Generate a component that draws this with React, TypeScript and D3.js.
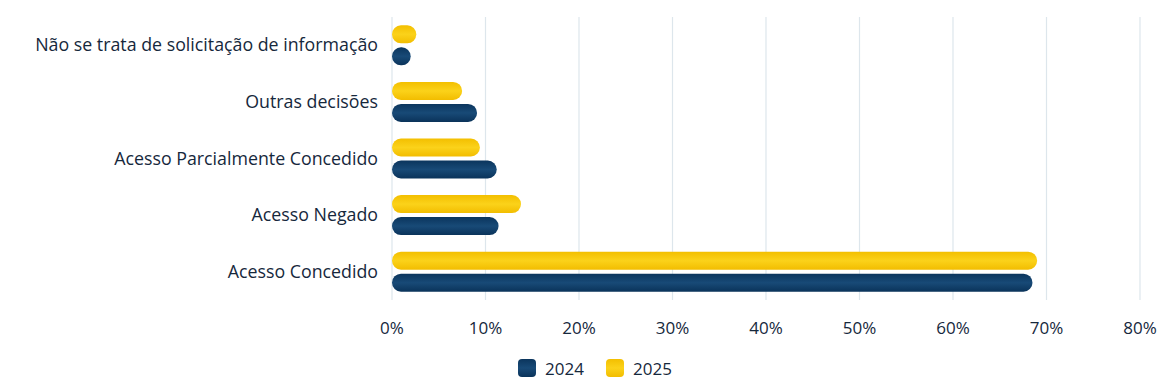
import React from "react";
import * as d3 from "d3";

const categories = [
  "Não se trata de solicitação de informação",
  "Outras decisões",
  "Acesso Parcialmente Concedido",
  "Acesso Negado",
  "Acesso Concedido",
];
const values2025 = [2.6, 7.5, 9.4, 13.8, 69.0];
const values2024 = [2.0, 9.1, 11.2, 11.4, 68.5];
const ticks = [0, 10, 20, 30, 40, 50, 60, 70, 80];
const seriesNames = ["2024", "2025"];

export default function App() {
  const W = 1166, H = 390;
  const x = d3.scaleLinear().domain([0, 80]).range([392, 1140]);
  const y = d3.scaleBand().domain(categories).range([17, 300]).paddingInner(0.2).paddingOuter(0.1);
  const bh = 18;
  const gap = 4;
  const font = "'Open Sans', 'Noto Sans', sans-serif";
  const txt = "#16283c";
  return (
    <svg width={W} height={H} style={{ position: "absolute", left: 0, top: 0 }} fontFamily={font}>
      <defs>
        <linearGradient id="g2024" x1="0" y1="0" x2="0" y2="1">
          <stop offset="0" stopColor="#0b355d" />
          <stop offset="0.5" stopColor="#184a77" />
          <stop offset="1" stopColor="#0a335a" />
        </linearGradient>
        <linearGradient id="g2025" x1="0" y1="0" x2="0" y2="1">
          <stop offset="0" stopColor="#f3bf00" />
          <stop offset="0.5" stopColor="#fbd21a" />
          <stop offset="1" stopColor="#f2bd00" />
        </linearGradient>
      </defs>
      <rect width={W} height={H} fill="#ffffff" />
      {ticks.map((t) => (
        <g key={t}>
          <line x1={x(t)} x2={x(t)} y1={17} y2={300} stroke="#dde6ec" strokeWidth={1.2} />
          <text x={x(t)} y={334} textAnchor="middle" fontSize={17} fill={txt}>
            {t}%
          </text>
        </g>
      ))}
      {categories.map((c, i) => {
        const cy = (y(c) as number) + y.bandwidth() / 2;
        const y25 = cy - gap / 2 - bh;
        const y24 = cy + gap / 2;
        return (
          <g key={c}>
            <text x={378} y={cy + 6} textAnchor="end" fontSize={17.8} fill={txt}>
              {c}
            </text>
            <rect x={x(0)} y={y25} width={x(values2025[i]) - x(0)} height={bh} rx={bh / 2} fill="url(#g2025)" />
            <rect x={x(0)} y={y24} width={x(values2024[i]) - x(0)} height={bh} rx={bh / 2} fill="url(#g2024)" />
          </g>
        );
      })}
      {seriesNames.map((s, i) => {
        const lx = 518 + i * 88;
        return (
          <g key={s}>
            <rect x={lx} y={359} width={18} height={18} rx={4} fill={`url(#g${s})`} />
            <text x={lx + 27} y={375} fontSize={17} fill={txt}>
              {s}
            </text>
          </g>
        );
      })}
    </svg>
  );
}
